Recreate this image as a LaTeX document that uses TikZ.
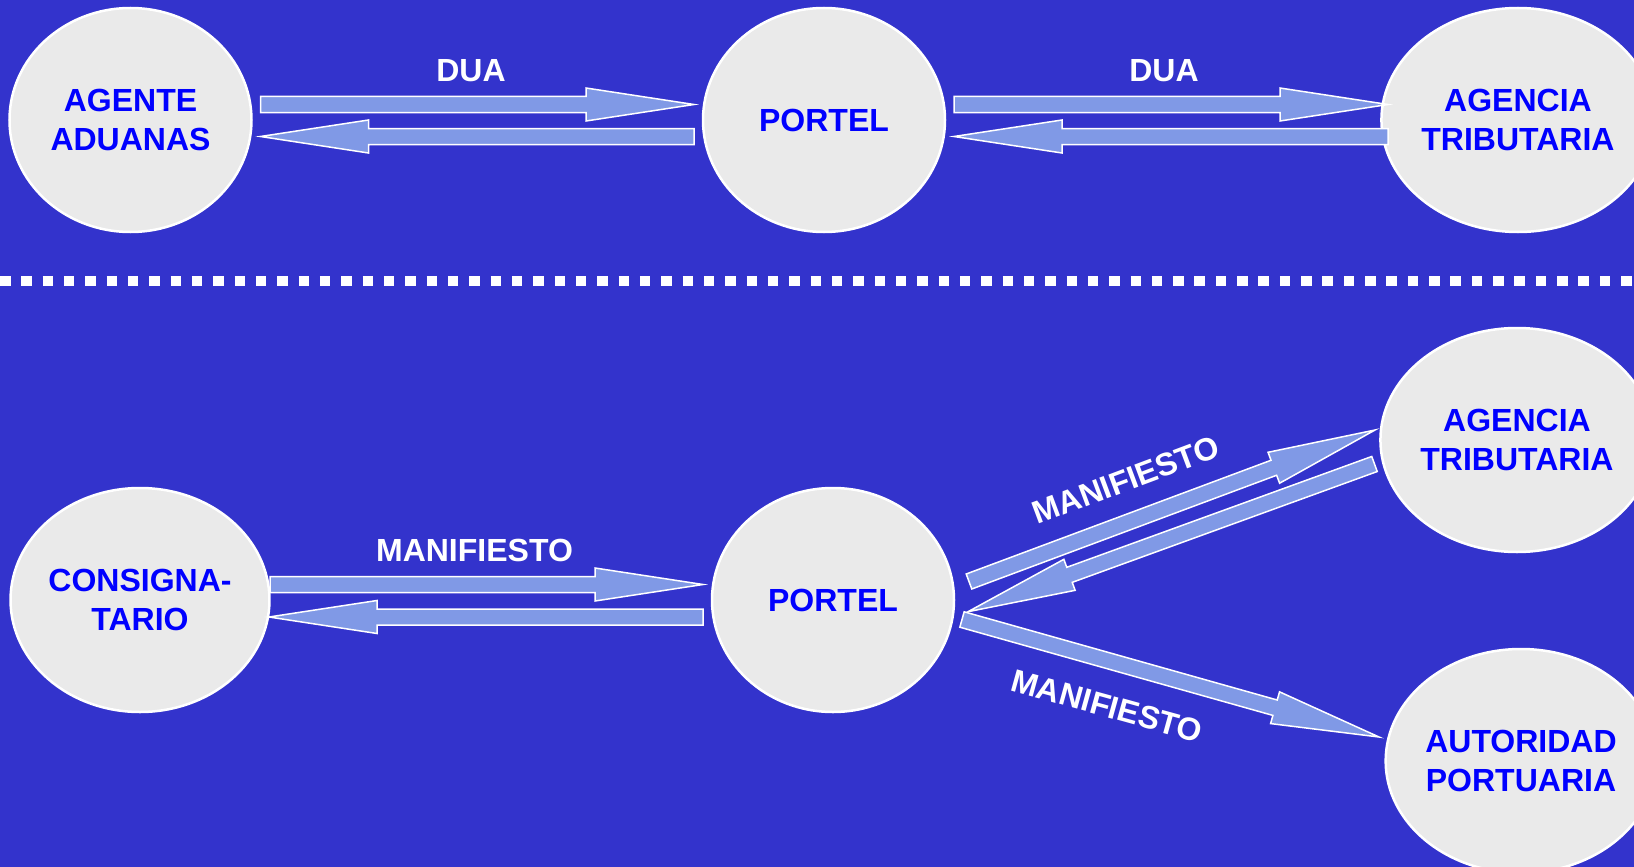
\documentclass[tikz,border=0pt]{standalone}
\usepackage{fontspec}
\setmainfont{Liberation Sans}
\usetikzlibrary{shapes.geometric,calc}
\definecolor{bgblue}{RGB}{51,51,204}
\definecolor{arrfill}{RGB}{128,153,230}
\definecolor{txtblue}{RGB}{0,0,255}
\definecolor{ellfill}{RGB}{234,234,234}
\newcommand\blockarr[2]{%
  \coordinate (hb) at ($(#2)!108pt!(#1)$);
  \draw[arrowbody] ($(#1)!8pt!90:(#2)$) -- ($(hb)!8pt!90:(#2)$) -- ($(hb)!16.5pt!90:(#2)$) -- (#2)
    -- ($(hb)!16.5pt!-90:(#2)$) -- ($(hb)!8pt!-90:(#2)$) -- ($(#1)!8pt!-90:(#2)$) -- cycle;}
\tikzset{
  entity/.style={ellipse, draw=white, line width=2.5pt, fill=ellfill, minimum width=242pt,
    minimum height=224pt, inner sep=0pt, align=center, text=txtblue,
    font=\fontsize{32}{39}\selectfont\bfseries},
  arrowbody/.style={fill=arrfill, draw=white, line width=1.5pt, line join=miter},
  lbl/.style={text=white, font=\fontsize{32}{39}\selectfont\bfseries, inner sep=0pt},
  sep/.style={white, line width=10.5pt, dash pattern=on 10.5pt off 10.83pt}
}
\begin{document}
\begin{tikzpicture}[x=1pt,y=-1pt]
\useasboundingbox (0,0) rectangle (1634,867);
\fill[bgblue] (0,0) rectangle (1634,867);
\coordinate (sepL) at (0,281);
\coordinate (sepR) at (1640,281);
\draw[sep] (sepL) -- (sepR);
% nodes
\node[entity] (ag)  at (130.5,120) {AGENTE\\ADUANAS};
\node[entity] (pt1) at (824,120) {PORTEL};
\node[entity] (at1) at (1518,120) {AGENCIA\\TRIBUTARIA};
\node[entity] (cs)  at (140,600) {CONSIGNA-\\TARIO};
\node[entity] (pt2) at (833,600) {PORTEL};
\node[entity] (at2) at (1517,440) {AGENCIA\\TRIBUTARIA};
\node[entity] (ap)  at (1521,761) {AUTORIDAD\\PORTUARIA};
% arrow ends
\coordinate (a1s) at (260.5,104.5); \coordinate (a1e) at (694,104.5);
\coordinate (a2s) at (694,136.5);   \coordinate (a2e) at (260.5,136.5);
\coordinate (a3s) at (954,104.5);   \coordinate (a3e) at (1388,104.5);
\coordinate (a4s) at (1388,136.5);  \coordinate (a4e) at (954,136.5);
\coordinate (b1s) at (270,584.5);   \coordinate (b1e) at (703,584.5);
\coordinate (b2s) at (703,617);     \coordinate (b2e) at (269,617);
\coordinate (d1s) at (969,581.5);   \coordinate (d1e) at (1375,430);
\coordinate (d2s) at (1374.5,464);  \coordinate (d2e) at (968,611.7);
\coordinate (d3s) at (962,619.5);   \coordinate (d3e) at (1379,737);
\blockarr{a1s}{a1e}
\blockarr{a2s}{a2e}
\blockarr{a3s}{a3e}
\blockarr{a4s}{a4e}
\blockarr{b1s}{b1e}
\blockarr{b2s}{b2e}
\blockarr{d1s}{d1e}
\blockarr{d2s}{d2e}
\blockarr{d3s}{d3e}
% labels
\node[lbl] (l1) at (471,71) {DUA};
\node[lbl] (l2) at (1164,71) {DUA};
\node[lbl] (l3) at (474.5,550) {MANIFIESTO};
\node[lbl, rotate=20.5] (l4) at (1126,480) {MANIFIESTO};
\node[lbl, rotate=-15.5] (l5) at (1107,706) {MANIFIESTO};
\end{tikzpicture}
\end{document}
